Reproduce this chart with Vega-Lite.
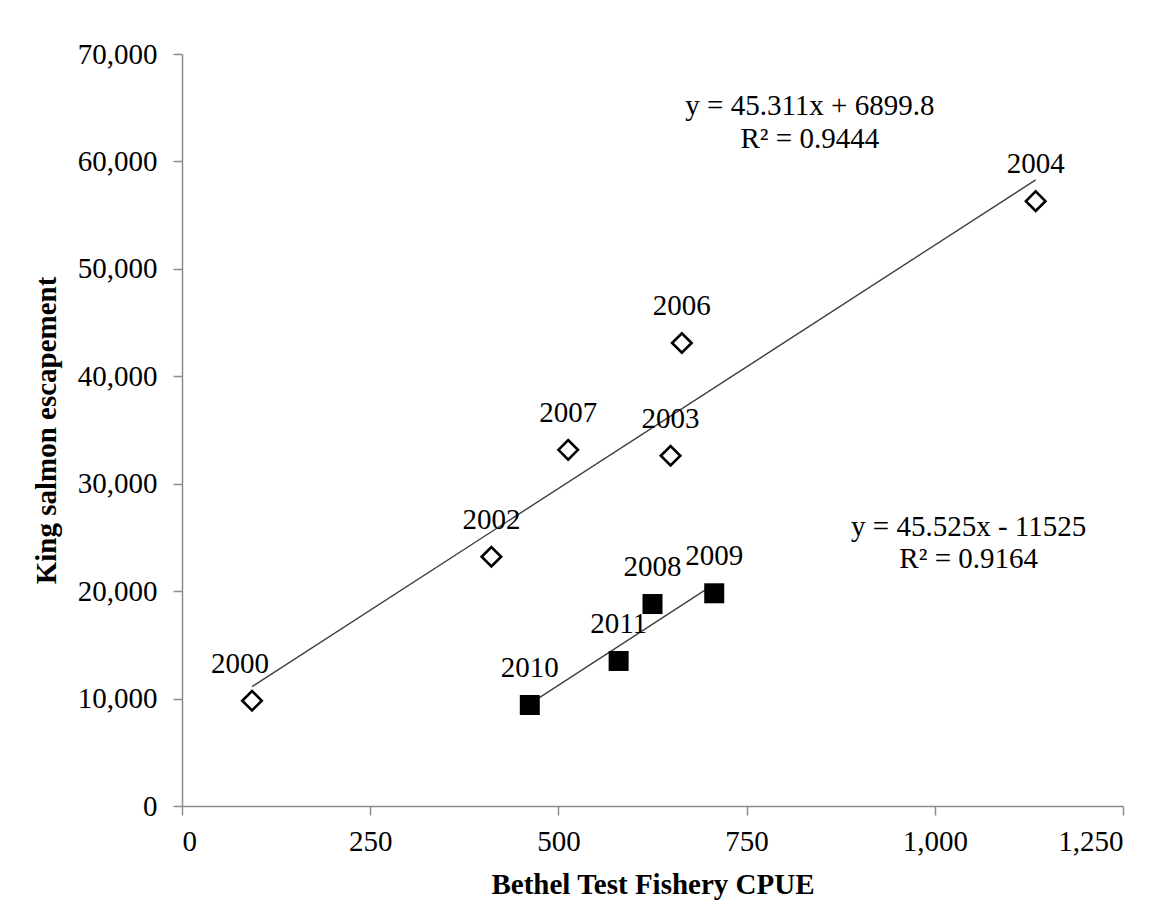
{
  "$schema": "https://vega.github.io/schema/vega-lite/v6.json",
  "width": 941,
  "height": 752,
  "autosize": {"type": "none"},
  "padding": {"left": 182, "top": 54, "right": 53, "bottom": 116},
  "background": "white",
  "config": {
    "view": {"stroke": null},
    "font": "Liberation Serif",
    "axis": {
      "grid": false,
      "domainColor": "#8c8c8c",
      "tickColor": "#8c8c8c",
      "domainWidth": 1.5,
      "tickWidth": 1.5,
      "tickSize": 9,
      "labelFont": "Liberation Serif",
      "labelFontSize": 29,
      "labelColor": "black",
      "titleFont": "Liberation Serif",
      "titleFontSize": 29,
      "titleFontWeight": "bold",
      "titleColor": "black"
    }
  },
  "datasets": {
    "points": [
      {"year": "2000", "cpue": 93, "escapement": 9800, "period": "2000-2007"},
      {"year": "2002", "cpue": 411, "escapement": 23200, "period": "2000-2007"},
      {"year": "2003", "cpue": 649, "escapement": 32600, "period": "2000-2007"},
      {"year": "2004", "cpue": 1134, "escapement": 56300, "period": "2000-2007"},
      {"year": "2006", "cpue": 664, "escapement": 43100, "period": "2000-2007"},
      {"year": "2007", "cpue": 513, "escapement": 33150, "period": "2000-2007"},
      {"year": "2008", "cpue": 625, "escapement": 18800, "period": "2008-2011"},
      {"year": "2009", "cpue": 707, "escapement": 19800, "period": "2008-2011"},
      {"year": "2010", "cpue": 462, "escapement": 9400, "period": "2008-2011"},
      {"year": "2011", "cpue": 580, "escapement": 13500, "period": "2008-2011"}
    ],
    "trend": [
      {"period": "2000-2007", "cpue": 93, "escapement": 11114},
      {"period": "2000-2007", "cpue": 1134, "escapement": 58283},
      {"period": "2008-2011", "cpue": 462, "escapement": 9508},
      {"period": "2008-2011", "cpue": 707, "escapement": 20661}
    ],
    "equations": [
      {"cpue": 834, "escapement": 65200, "text": "y = 45.311x + 6899.8"},
      {"cpue": 834, "escapement": 62100, "text": "R² = 0.9444"},
      {"cpue": 1045, "escapement": 26000, "text": "y = 45.525x - 11525"},
      {"cpue": 1045, "escapement": 23000, "text": "R² = 0.9164"}
    ]
  },
  "encoding": {
    "x": {
      "field": "cpue",
      "type": "quantitative",
      "scale": {"domain": [0, 1250], "nice": false},
      "axis": {
        "values": [0, 250, 500, 750, 1000, 1250],
        "format": ",d",
        "title": "Bethel Test Fishery CPUE",
        "labelPadding": 12,
        "titlePadding": 14
      }
    },
    "y": {
      "field": "escapement",
      "type": "quantitative",
      "scale": {"domain": [0, 70000], "nice": false},
      "axis": {
        "values": [0, 10000, 20000, 30000, 40000, 50000, 60000, 70000],
        "format": ",d",
        "title": "King salmon escapement",
        "labelPadding": 16,
        "titlePadding": 16
      }
    }
  },
  "layer": [
    {
      "data": {"name": "trend"},
      "mark": {"type": "line", "color": "#404040", "strokeWidth": 1.4},
      "encoding": {"detail": {"field": "period"}}
    },
    {
      "data": {"name": "points"},
      "transform": [{"filter": "datum.period == '2000-2007'"}],
      "mark": {"type": "point", "shape": "diamond", "size": 380, "filled": false, "stroke": "black", "strokeWidth": 2.6, "opacity": 1}
    },
    {
      "data": {"name": "points"},
      "transform": [{"filter": "datum.period == '2008-2011'"}],
      "mark": {"type": "point", "shape": "square", "size": 400, "filled": true, "color": "black", "opacity": 1}
    },
    {
      "data": {"name": "points"},
      "transform": [{"filter": "datum.year != '2000'"}],
      "mark": {"type": "text", "fontSize": 29, "dy": -37, "color": "black", "baseline": "middle", "align": "center"},
      "encoding": {"text": {"field": "year"}}
    },
    {
      "data": {"name": "points"},
      "transform": [{"filter": "datum.year == '2000'"}],
      "mark": {"type": "text", "fontSize": 29, "dy": -37, "dx": -12, "color": "black", "baseline": "middle", "align": "center"},
      "encoding": {"text": {"field": "year"}}
    },
    {
      "data": {"name": "equations"},
      "mark": {"type": "text", "fontSize": 29, "color": "black", "baseline": "middle", "align": "center"},
      "encoding": {"text": {"field": "text"}}
    }
  ]
}
